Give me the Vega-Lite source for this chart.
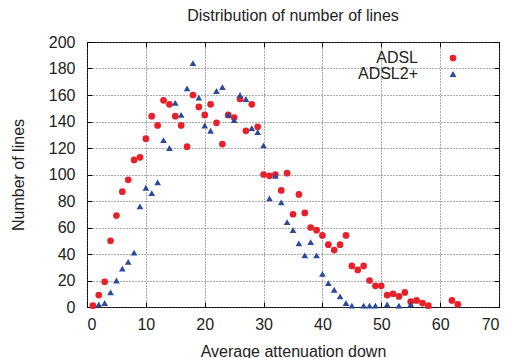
{
  "$schema": "https://vega.github.io/schema/vega-lite/v6.json",
  "width": 412,
  "height": 265,
  "autosize": {"type": "none"},
  "padding": {"left": 87, "top": 42, "right": 13, "bottom": 51},
  "background": "white",
  "title": {"text": "Distribution of number of lines", "fontSize": 16, "font": "Liberation Sans", "fontWeight": "normal", "color": "#222", "offset": 10, "anchor": "middle"},
  "config": {
    "view": {"stroke": "black", "strokeWidth": 1},
    "font": "Liberation Sans",
    "axis": {"domain": false, "ticks": true, "tickSize": -5, "tickColor": "black", "labelFont": "Liberation Sans", "labelFontSize": 16, "labelColor": "#222", "titleFont": "Liberation Sans", "titleFontSize": 16, "titleFontWeight": "normal", "titleColor": "#222"}
  },
  "resolve": {"axis": {"x": "independent", "y": "independent"}},
  "data": {"values": [
    {"att": 1, "n": 1, "tech": "ADSL"},
    {"att": 2, "n": 9, "tech": "ADSL"},
    {"att": 3, "n": 19, "tech": "ADSL"},
    {"att": 4, "n": 50, "tech": "ADSL"},
    {"att": 5, "n": 69, "tech": "ADSL"},
    {"att": 6, "n": 87, "tech": "ADSL"},
    {"att": 7, "n": 96, "tech": "ADSL"},
    {"att": 8, "n": 111, "tech": "ADSL"},
    {"att": 9, "n": 113, "tech": "ADSL"},
    {"att": 10, "n": 127, "tech": "ADSL"},
    {"att": 11, "n": 144, "tech": "ADSL"},
    {"att": 12, "n": 137, "tech": "ADSL"},
    {"att": 13, "n": 156, "tech": "ADSL"},
    {"att": 14, "n": 153, "tech": "ADSL"},
    {"att": 15, "n": 144, "tech": "ADSL"},
    {"att": 16, "n": 137, "tech": "ADSL"},
    {"att": 17, "n": 121, "tech": "ADSL"},
    {"att": 18, "n": 160, "tech": "ADSL"},
    {"att": 19, "n": 151, "tech": "ADSL"},
    {"att": 20, "n": 145, "tech": "ADSL"},
    {"att": 21, "n": 153, "tech": "ADSL"},
    {"att": 22, "n": 139, "tech": "ADSL"},
    {"att": 23, "n": 123, "tech": "ADSL"},
    {"att": 24, "n": 145, "tech": "ADSL"},
    {"att": 25, "n": 143, "tech": "ADSL"},
    {"att": 26, "n": 157, "tech": "ADSL"},
    {"att": 27, "n": 133, "tech": "ADSL"},
    {"att": 28, "n": 153, "tech": "ADSL"},
    {"att": 29, "n": 136, "tech": "ADSL"},
    {"att": 30, "n": 100, "tech": "ADSL"},
    {"att": 31, "n": 99, "tech": "ADSL"},
    {"att": 32, "n": 100, "tech": "ADSL"},
    {"att": 33, "n": 88, "tech": "ADSL"},
    {"att": 34, "n": 101, "tech": "ADSL"},
    {"att": 35, "n": 70, "tech": "ADSL"},
    {"att": 36, "n": 85, "tech": "ADSL"},
    {"att": 37, "n": 71, "tech": "ADSL"},
    {"att": 38, "n": 60, "tech": "ADSL"},
    {"att": 39, "n": 58, "tech": "ADSL"},
    {"att": 40, "n": 54, "tech": "ADSL"},
    {"att": 41, "n": 47, "tech": "ADSL"},
    {"att": 42, "n": 43, "tech": "ADSL"},
    {"att": 43, "n": 47, "tech": "ADSL"},
    {"att": 44, "n": 54, "tech": "ADSL"},
    {"att": 45, "n": 31, "tech": "ADSL"},
    {"att": 46, "n": 28, "tech": "ADSL"},
    {"att": 47, "n": 31, "tech": "ADSL"},
    {"att": 48, "n": 20, "tech": "ADSL"},
    {"att": 49, "n": 16, "tech": "ADSL"},
    {"att": 50, "n": 16, "tech": "ADSL"},
    {"att": 51, "n": 9, "tech": "ADSL"},
    {"att": 52, "n": 10, "tech": "ADSL"},
    {"att": 53, "n": 8, "tech": "ADSL"},
    {"att": 54, "n": 11, "tech": "ADSL"},
    {"att": 55, "n": 4, "tech": "ADSL"},
    {"att": 56, "n": 5, "tech": "ADSL"},
    {"att": 57, "n": 3, "tech": "ADSL"},
    {"att": 58, "n": 1, "tech": "ADSL"},
    {"att": 62, "n": 5, "tech": "ADSL"},
    {"att": 63, "n": 2, "tech": "ADSL"},
    {"att": 2, "n": 2, "tech": "ADSL2+"},
    {"att": 3, "n": 3, "tech": "ADSL2+"},
    {"att": 4, "n": 11, "tech": "ADSL2+"},
    {"att": 5, "n": 20, "tech": "ADSL2+"},
    {"att": 6, "n": 29, "tech": "ADSL2+"},
    {"att": 7, "n": 34, "tech": "ADSL2+"},
    {"att": 8, "n": 41, "tech": "ADSL2+"},
    {"att": 9, "n": 76, "tech": "ADSL2+"},
    {"att": 10, "n": 90, "tech": "ADSL2+"},
    {"att": 11, "n": 86, "tech": "ADSL2+"},
    {"att": 12, "n": 94, "tech": "ADSL2+"},
    {"att": 13, "n": 126, "tech": "ADSL2+"},
    {"att": 14, "n": 120, "tech": "ADSL2+"},
    {"att": 15, "n": 154, "tech": "ADSL2+"},
    {"att": 16, "n": 145, "tech": "ADSL2+"},
    {"att": 17, "n": 165, "tech": "ADSL2+"},
    {"att": 18, "n": 184, "tech": "ADSL2+"},
    {"att": 19, "n": 158, "tech": "ADSL2+"},
    {"att": 20, "n": 137, "tech": "ADSL2+"},
    {"att": 21, "n": 133, "tech": "ADSL2+"},
    {"att": 22, "n": 163, "tech": "ADSL2+"},
    {"att": 23, "n": 166, "tech": "ADSL2+"},
    {"att": 24, "n": 145, "tech": "ADSL2+"},
    {"att": 25, "n": 141, "tech": "ADSL2+"},
    {"att": 26, "n": 160, "tech": "ADSL2+"},
    {"att": 27, "n": 157, "tech": "ADSL2+"},
    {"att": 28, "n": 135, "tech": "ADSL2+"},
    {"att": 29, "n": 132, "tech": "ADSL2+"},
    {"att": 30, "n": 122, "tech": "ADSL2+"},
    {"att": 31, "n": 82, "tech": "ADSL2+"},
    {"att": 32, "n": 99, "tech": "ADSL2+"},
    {"att": 33, "n": 79, "tech": "ADSL2+"},
    {"att": 34, "n": 64, "tech": "ADSL2+"},
    {"att": 35, "n": 58, "tech": "ADSL2+"},
    {"att": 36, "n": 48, "tech": "ADSL2+"},
    {"att": 37, "n": 39, "tech": "ADSL2+"},
    {"att": 38, "n": 49, "tech": "ADSL2+"},
    {"att": 39, "n": 39, "tech": "ADSL2+"},
    {"att": 40, "n": 25, "tech": "ADSL2+"},
    {"att": 41, "n": 18, "tech": "ADSL2+"},
    {"att": 42, "n": 13, "tech": "ADSL2+"},
    {"att": 43, "n": 8, "tech": "ADSL2+"},
    {"att": 44, "n": 3, "tech": "ADSL2+"},
    {"att": 45, "n": 1, "tech": "ADSL2+"},
    {"att": 47, "n": 1, "tech": "ADSL2+"},
    {"att": 48, "n": 1, "tech": "ADSL2+"},
    {"att": 49, "n": 1, "tech": "ADSL2+"},
    {"att": 51, "n": 2, "tech": "ADSL2+"},
    {"att": 53, "n": 1, "tech": "ADSL2+"},
    {"att": 55, "n": 2, "tech": "ADSL2+"}
  ]},
  "layer": [
    {
      "mark": {"type": "point", "filled": true, "opacity": 1, "size": 45},
      "encoding": {
        "x": {"field": "att", "type": "quantitative", "scale": {"domain": [0, 70], "nice": false, "zero": false}, "axis": {"title": "Average attenuation down", "values": [0, 10, 20, 30, 40, 50, 60, 70], "labelPadding": 14, "titlePadding": 11, "grid": true, "gridDash": [1, 2], "gridColor": "#555", "gridWidth": 1, "gridOpacity": 1}},
        "y": {"field": "n", "type": "quantitative", "scale": {"domain": [0, 200], "nice": false}, "axis": {"title": "Number of lines", "values": [0, 20, 40, 60, 80, 100, 120, 140, 160, 180, 200], "labelPadding": 17, "titlePadding": 22, "grid": true, "gridDash": [1, 2], "gridColor": "#555", "gridWidth": 1, "gridOpacity": 1}},
        "color": {"field": "tech", "type": "nominal", "scale": {"domain": ["ADSL", "ADSL2+"], "range": ["#e8202a", "#2a4b9b"]},
          "legend": {"title": null, "orient": "none", "legendX": 358, "legendY": 8, "padding": 0, "labelAlign": "right", "labelOffset": -43, "labelFontSize": 16, "labelColor": "#222", "rowPadding": 0, "symbolSize": 45}},
        "shape": {"field": "tech", "type": "nominal", "scale": {"domain": ["ADSL", "ADSL2+"], "range": ["circle", "triangle-up"]}, "legend": null}
      }
    },
    {
      "mark": {"type": "point", "opacity": 0},
      "encoding": {
        "x": {"field": "att", "type": "quantitative", "axis": {"orient": "top", "labels": false, "grid": false, "title": null, "values": [0, 10, 20, 30, 40, 50, 60, 70]}},
        "y": {"field": "n", "type": "quantitative", "axis": {"orient": "right", "labels": false, "grid": false, "title": null, "values": [0, 20, 40, 60, 80, 100, 120, 140, 160, 180, 200]}}
      }
    }
  ]
}
